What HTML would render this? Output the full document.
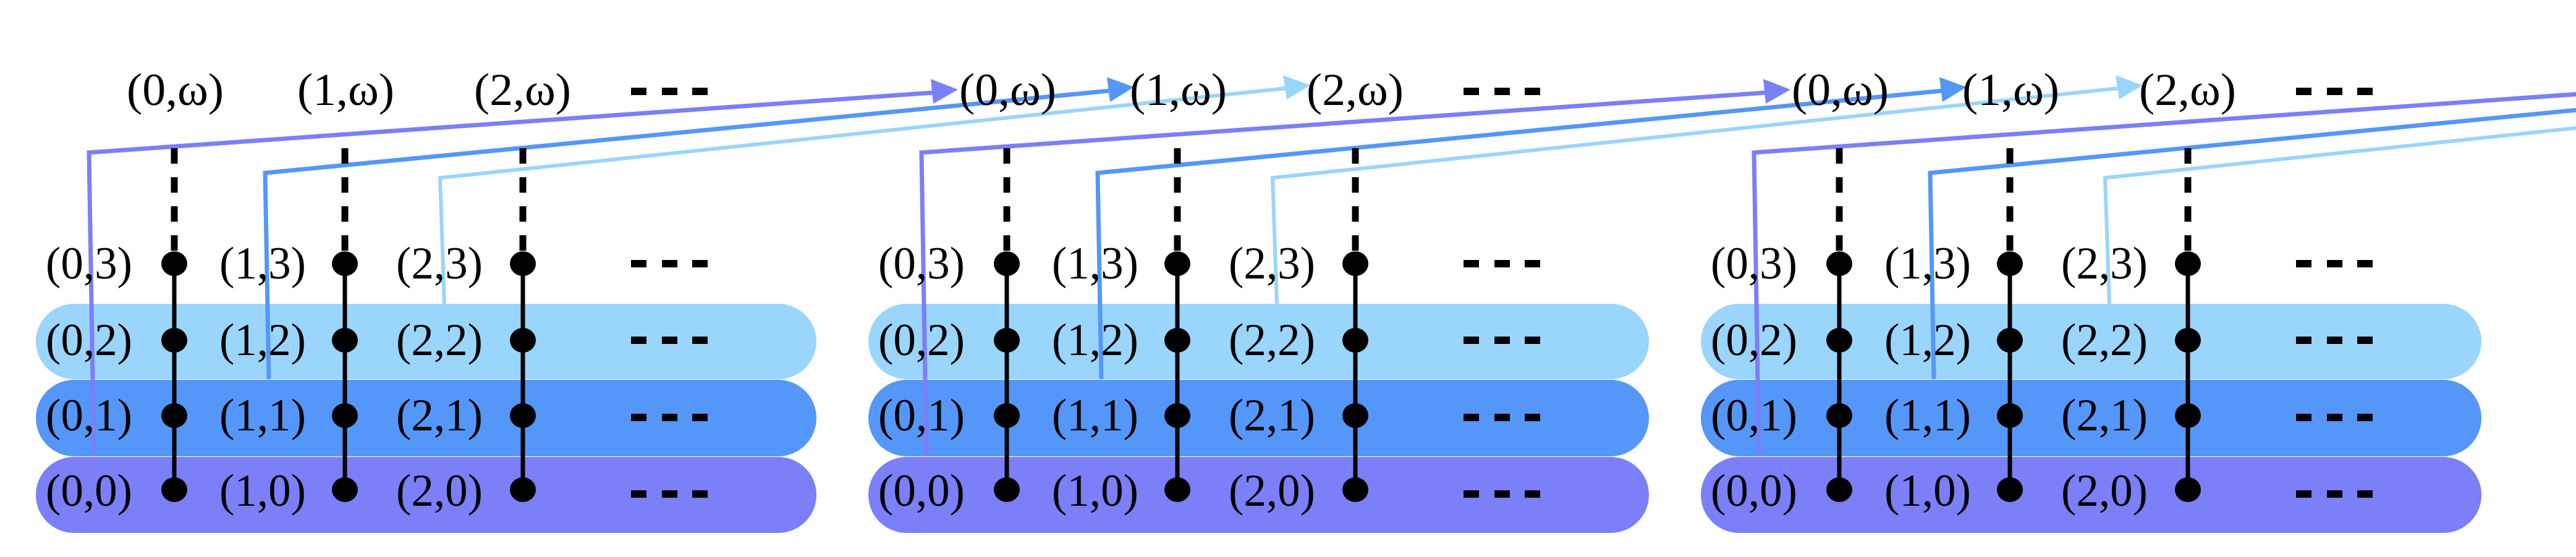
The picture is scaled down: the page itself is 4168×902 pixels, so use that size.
<!DOCTYPE html>
<html><head><meta charset="utf-8"><style>html,body{margin:0;padding:0;background:#fff}svg{display:block}</style></head><body>
<svg width="4168" height="902" viewBox="0 0 4168 902" xmlns="http://www.w3.org/2000/svg">
<defs>
<g id="shapes">
<rect x="58" y="492" width="1263" height="122" rx="62" ry="61" fill="#9AD5FB"/>
<rect x="58" y="615" width="1263" height="124" rx="62" ry="62" fill="#5596F9"/>
<rect x="58" y="740" width="1263" height="123" rx="62" ry="61" fill="#7B7FF8"/>
</g>
<g id="blk">
<g stroke="#000" stroke-width="11" stroke-dasharray="25,22">
<line x1="282" y1="240" x2="282" y2="408"/><line x1="558" y1="240" x2="558" y2="408"/><line x1="846" y1="240" x2="846" y2="408"/>
</g>
<g stroke="#000" stroke-width="7">
<line x1="282" y1="408" x2="282" y2="793"/><line x1="558" y1="408" x2="558" y2="793"/><line x1="846" y1="408" x2="846" y2="793"/>
</g>
<g fill="#000">
<ellipse cx="282" cy="427" rx="21" ry="20"/><ellipse cx="558" cy="427" rx="21" ry="20"/><ellipse cx="846" cy="427" rx="21" ry="20"/>
<ellipse cx="282" cy="551" rx="21" ry="20"/><ellipse cx="558" cy="551" rx="21" ry="20"/><ellipse cx="846" cy="551" rx="21" ry="20"/>
<ellipse cx="282" cy="673" rx="21" ry="20"/><ellipse cx="558" cy="673" rx="21" ry="20"/><ellipse cx="846" cy="673" rx="21" ry="20"/>
<ellipse cx="282" cy="793" rx="21" ry="20"/><ellipse cx="558" cy="793" rx="21" ry="20"/><ellipse cx="846" cy="793" rx="21" ry="20"/>
</g>
<g fill="#000">
<rect x="1021" y="142" width="25" height="12"/><rect x="1071" y="142" width="25" height="12"/><rect x="1120" y="142" width="25" height="12"/>
<rect x="1021" y="421" width="25" height="12"/><rect x="1071" y="421" width="25" height="12"/><rect x="1120" y="421" width="25" height="12"/>
<rect x="1021" y="545" width="25" height="12"/><rect x="1071" y="545" width="25" height="12"/><rect x="1120" y="545" width="25" height="12"/>
<rect x="1021" y="670" width="25" height="12"/><rect x="1071" y="670" width="25" height="12"/><rect x="1120" y="670" width="25" height="12"/>
<rect x="1021" y="794" width="25" height="12"/><rect x="1071" y="794" width="25" height="12"/><rect x="1120" y="794" width="25" height="12"/>
</g>
</g>
</defs>

<use href="#shapes"/>
<use href="#shapes" transform="translate(1347,0)"/>
<use href="#shapes" transform="translate(2694,0)"/>

<g fill="none" stroke-linejoin="miter">
<polyline points="152,739 144,247 1510,150" stroke="#7B7FF8" stroke-width="7"/>
<polyline points="435,614 429,280 1795,147" stroke="#5596F9" stroke-width="7"/>
<polyline points="719,492 712,288 2080,143" stroke="#9AD5FB" stroke-width="6"/>
<polyline points="1499,739 1491,247 2857,150" stroke="#7B7FF8" stroke-width="7"/>
<polyline points="1782,614 1776,280 3142,147" stroke="#5596F9" stroke-width="7"/>
<polyline points="2066,492 2059,288 3427,143" stroke="#9AD5FB" stroke-width="6"/>
<polyline points="2846,739 2838,247 4204,150" stroke="#7B7FF8" stroke-width="7"/>
<polyline points="3129,614 3123,280 4489,147" stroke="#5596F9" stroke-width="7"/>
<polyline points="3413,492 3406,288 4774,143" stroke="#9AD5FB" stroke-width="6"/>
</g>
<g>
<path d="M1550,145 L1506,128 L1510,168 z" fill="#7B7FF8"/>
<path d="M1835,141 L1791,125 L1796,165 z" fill="#5596F9"/>
<path d="M2120,138 L2076,122 L2082,161 z" fill="#9AD5FB"/>
<path d="M2897,145 L2853,128 L2857,168 z" fill="#7B7FF8"/>
<path d="M3182,141 L3138,125 L3143,165 z" fill="#5596F9"/>
<path d="M3467,138 L3423,122 L3429,161 z" fill="#9AD5FB"/>
</g>

<use href="#blk"/>
<use href="#blk" transform="translate(1347,0)"/>
<use href="#blk" transform="translate(2694,0)"/>

<g font-family="'Liberation Serif', serif" font-size="74" fill="#000">
<g>
<text x="205" y="170" textLength="157" lengthAdjust="spacingAndGlyphs">(0,ω)</text>
<text x="481" y="170" textLength="157" lengthAdjust="spacingAndGlyphs">(1,ω)</text>
<text x="767" y="170" textLength="157" lengthAdjust="spacingAndGlyphs">(2,ω)</text>
<text x="74" y="451" textLength="140" lengthAdjust="spacingAndGlyphs">(0,3)</text>
<text x="355" y="451" textLength="140" lengthAdjust="spacingAndGlyphs">(1,3)</text>
<text x="641" y="451" textLength="140" lengthAdjust="spacingAndGlyphs">(2,3)</text>
<text x="74" y="575" textLength="140" lengthAdjust="spacingAndGlyphs">(0,2)</text>
<text x="355" y="575" textLength="140" lengthAdjust="spacingAndGlyphs">(1,2)</text>
<text x="641" y="575" textLength="140" lengthAdjust="spacingAndGlyphs">(2,2)</text>
<text x="74" y="697" textLength="140" lengthAdjust="spacingAndGlyphs">(0,1)</text>
<text x="355" y="697" textLength="140" lengthAdjust="spacingAndGlyphs">(1,1)</text>
<text x="641" y="697" textLength="140" lengthAdjust="spacingAndGlyphs">(2,1)</text>
<text x="74" y="819" textLength="140" lengthAdjust="spacingAndGlyphs">(0,0)</text>
<text x="355" y="819" textLength="140" lengthAdjust="spacingAndGlyphs">(1,0)</text>
<text x="641" y="819" textLength="140" lengthAdjust="spacingAndGlyphs">(2,0)</text>
</g>
<g transform="translate(1347,0)">
<text x="205" y="170" textLength="157" lengthAdjust="spacingAndGlyphs">(0,ω)</text>
<text x="481" y="170" textLength="157" lengthAdjust="spacingAndGlyphs">(1,ω)</text>
<text x="767" y="170" textLength="157" lengthAdjust="spacingAndGlyphs">(2,ω)</text>
<text x="74" y="451" textLength="140" lengthAdjust="spacingAndGlyphs">(0,3)</text>
<text x="355" y="451" textLength="140" lengthAdjust="spacingAndGlyphs">(1,3)</text>
<text x="641" y="451" textLength="140" lengthAdjust="spacingAndGlyphs">(2,3)</text>
<text x="74" y="575" textLength="140" lengthAdjust="spacingAndGlyphs">(0,2)</text>
<text x="355" y="575" textLength="140" lengthAdjust="spacingAndGlyphs">(1,2)</text>
<text x="641" y="575" textLength="140" lengthAdjust="spacingAndGlyphs">(2,2)</text>
<text x="74" y="697" textLength="140" lengthAdjust="spacingAndGlyphs">(0,1)</text>
<text x="355" y="697" textLength="140" lengthAdjust="spacingAndGlyphs">(1,1)</text>
<text x="641" y="697" textLength="140" lengthAdjust="spacingAndGlyphs">(2,1)</text>
<text x="74" y="819" textLength="140" lengthAdjust="spacingAndGlyphs">(0,0)</text>
<text x="355" y="819" textLength="140" lengthAdjust="spacingAndGlyphs">(1,0)</text>
<text x="641" y="819" textLength="140" lengthAdjust="spacingAndGlyphs">(2,0)</text>
</g>
<g transform="translate(2694,0)">
<text x="205" y="170" textLength="157" lengthAdjust="spacingAndGlyphs">(0,ω)</text>
<text x="481" y="170" textLength="157" lengthAdjust="spacingAndGlyphs">(1,ω)</text>
<text x="767" y="170" textLength="157" lengthAdjust="spacingAndGlyphs">(2,ω)</text>
<text x="74" y="451" textLength="140" lengthAdjust="spacingAndGlyphs">(0,3)</text>
<text x="355" y="451" textLength="140" lengthAdjust="spacingAndGlyphs">(1,3)</text>
<text x="641" y="451" textLength="140" lengthAdjust="spacingAndGlyphs">(2,3)</text>
<text x="74" y="575" textLength="140" lengthAdjust="spacingAndGlyphs">(0,2)</text>
<text x="355" y="575" textLength="140" lengthAdjust="spacingAndGlyphs">(1,2)</text>
<text x="641" y="575" textLength="140" lengthAdjust="spacingAndGlyphs">(2,2)</text>
<text x="74" y="697" textLength="140" lengthAdjust="spacingAndGlyphs">(0,1)</text>
<text x="355" y="697" textLength="140" lengthAdjust="spacingAndGlyphs">(1,1)</text>
<text x="641" y="697" textLength="140" lengthAdjust="spacingAndGlyphs">(2,1)</text>
<text x="74" y="819" textLength="140" lengthAdjust="spacingAndGlyphs">(0,0)</text>
<text x="355" y="819" textLength="140" lengthAdjust="spacingAndGlyphs">(1,0)</text>
<text x="641" y="819" textLength="140" lengthAdjust="spacingAndGlyphs">(2,0)</text>
</g>
</g>
</svg>
</body></html>
